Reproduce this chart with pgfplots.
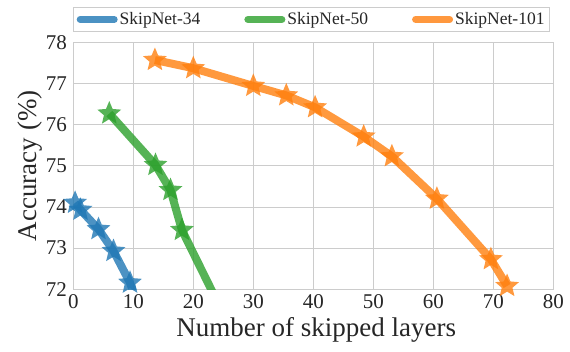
\documentclass[border=0pt]{standalone}
\usepackage{fontspec}
\setmainfont{Liberation Serif}
\newfontfamily\tickfont{Liberation Serif}
\usepackage{pgfplots}
\pgfplotsset{compat=1.18}
\definecolor{cblue}{HTML}{1F77B4}
\definecolor{cgreen}{HTML}{2CA02C}
\definecolor{corange}{HTML}{FF7F0E}
\definecolor{gridgray}{HTML}{CCCCCC}
\pgfdeclareplotmark{fstar}{%
 \pgfpathmoveto{\pgfpointpolar{90}{\pgfplotmarksize}}%
 \pgfpathlineto{\pgfpointpolar{126}{0.45\pgfplotmarksize}}%
 \pgfpathlineto{\pgfpointpolar{162}{\pgfplotmarksize}}%
 \pgfpathlineto{\pgfpointpolar{198}{0.45\pgfplotmarksize}}%
 \pgfpathlineto{\pgfpointpolar{234}{\pgfplotmarksize}}%
 \pgfpathlineto{\pgfpointpolar{270}{0.45\pgfplotmarksize}}%
 \pgfpathlineto{\pgfpointpolar{306}{\pgfplotmarksize}}%
 \pgfpathlineto{\pgfpointpolar{342}{0.45\pgfplotmarksize}}%
 \pgfpathlineto{\pgfpointpolar{18}{\pgfplotmarksize}}%
 \pgfpathlineto{\pgfpointpolar{54}{0.45\pgfplotmarksize}}%
 \pgfpathclose\pgfusepathqfill}
\begin{document}
\begin{tikzpicture}
\begin{axis}[
  scale only axis, width=480pt, height=247pt,
  xmin=0, xmax=80, ymin=72, ymax=78,
  xtick={0,10,20,30,40,50,60,70,80}, ytick={72,73,74,75,76,77,78},
  xticklabels={0,10,20,30,40,50,60,70,80},
  yticklabels={72,73,74,75,76,77,78},
  grid=major, grid style={color=gridgray, line width=0.8pt},
  axis line style={color=gridgray, line width=1pt},
  major tick length=0pt,
  tick label style={font=\tickfont\fontsize{21}{21}\selectfont, text=black!85},
  xticklabel style={yshift=-2pt},
  yticklabel style={xshift=-3pt},
  xlabel={Number of skipped layers}, ylabel={Accuracy (\%)},
  label style={font=\fontsize{27}{27}\selectfont, text=black!85},
  xlabel style={at={(axis description cs:0.506,-0.166)}, anchor=center},
  ylabel style={at={(axis description cs:-0.0896,0.5)}, anchor=center},
  legend columns=3,
  legend cell align=left,
  legend style={at={(axis description cs:0,1.043)}, anchor=south west,
    draw=gridgray, line width=0.8pt, font=\fontsize{17.5}{17.5}\selectfont,
    text=black!85, inner ysep=3pt, inner xsep=3pt,
    /tikz/every even column/.append style={column sep=42pt}},
  legend image code/.code={\draw[line width=7pt, line cap=round, #1] (3.5pt,0pt) -- (37.5pt,0pt);},
  every axis plot/.append style={line width=8pt, line join=round, mark=fstar, mark size=12.5pt, opacity=0.8},
]
\addplot[color=cblue, mark options={fill=cblue}] coordinates {
 (0.3,74.1) (1.2,73.93) (4.2,73.46) (6.7,72.93) (9.45,72.16) (10.3,71.8)};
\addlegendentry{SkipNet-34}
\addplot[color=cgreen, mark options={fill=cgreen}] coordinates {
 (6.0,76.27) (13.7,75.02) (16.2,74.41) (18.1,73.44) (24.5,71.55)};
\addlegendentry{SkipNet-50}
\addplot[color=corange, mark options={fill=corange}] coordinates {
 (13.6,77.57) (20.0,77.37) (30.0,76.94) (35.5,76.71) (40.3,76.42) (48.4,75.71) (53.1,75.23) (60.6,74.2) (69.6,72.73) (72.3,72.08)};
\addlegendentry{SkipNet-101\hspace{10pt}}
\coordinate (SW) at (rel axis cs:0,0);
\end{axis}
\pgfresetboundingbox
\path[use as bounding box] ([xshift=-73.3pt,yshift=-62.7pt]SW) rectangle ++(570pt,352pt);
\end{tikzpicture}
\end{document}
